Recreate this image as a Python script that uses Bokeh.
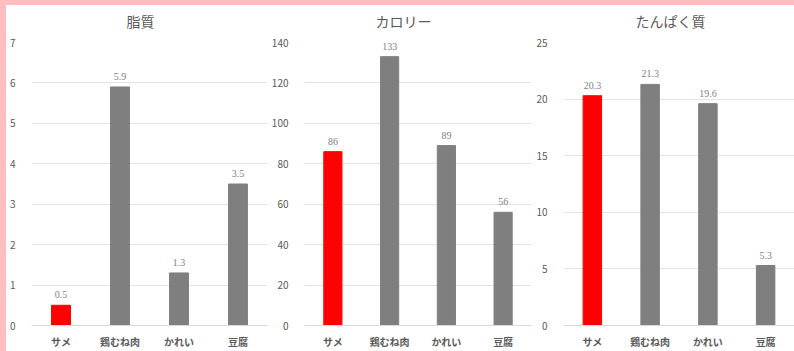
from bokeh.plotting import figure
from bokeh.models import ColumnDataSource, FixedTicker, Spacer, FactorRange, Range1d, LabelSet, Title
from bokeh.layouts import row, column
from bokeh.embed import file_html
from bokeh.resources import INLINE

categories = ["サメ", "鶏むね肉", "かれい", "豆腐"]
fat = [0.5, 5.9, 1.3, 3.5]
calories = [86, 133, 89, 56]
protein = [20.3, 21.3, 19.6, 5.3]
fat_labels = ["0.5", "5.9", "1.3", "3.5"]
calorie_labels = ["86", "133", "89", "56"]
protein_labels = ["20.3", "21.3", "19.6", "5.3"]
bar_colors = ["#FF0000", "#7F7F7F", "#7F7F7F", "#7F7F7F"]

FONT = "Noto Sans CJK JP"
PINK = "#FFBFBF"


def make_chart(title, vals, labels, ymax, step, width, left, right, title_offset):
    p = figure(
        x_range=FactorRange(*categories, range_padding=0),
        y_range=Range1d(0, ymax),
        width=width, height=346,
        min_border_left=left, min_border_right=right,
        min_border_top=37, min_border_bottom=25,
        output_backend="svg", toolbar_location=None,
        outline_line_color=None,
        background_fill_color="white", border_fill_color="white",
    )
    src = ColumnDataSource(dict(cat=categories, v=vals, lab=labels, c=bar_colors))
    p.vbar(x="cat", top="v", width=0.32, source=src, fill_color="c",
           line_color="c", line_width=1)
    labs = LabelSet(x="cat", y="v", text="lab", source=src, text_align="center",
                    text_baseline="bottom", y_offset=7, text_font_size="10px",
                    text_color="#808080", text_font=FONT, level="overlay")
    p.add_layout(labs)

    p.title.text = ""
    gap = Title(text=" ", text_font_size="2px", standoff=8, text_color="white")
    p.add_layout(gap, "above")
    ttl = Title(text=title, align="left", offset=title_offset, text_font=FONT,
                text_font_size="14px", text_font_style="normal",
                text_color="#595959", standoff=0)
    p.add_layout(ttl, "above")

    p.yaxis.ticker = FixedTicker(ticks=[i * step for i in range(int(round(ymax / step)) + 1)])
    p.yaxis.axis_line_color = None
    p.yaxis.major_tick_line_color = None
    p.yaxis.minor_tick_line_color = None
    p.yaxis.major_label_standoff = 10
    p.yaxis.major_label_text_font = FONT
    p.yaxis.major_label_text_font_size = "10px"
    p.yaxis.major_label_text_color = "#595959"

    p.xaxis.axis_line_color = "#D9D9D9"
    p.xaxis.major_tick_line_color = None
    p.xaxis.minor_tick_line_color = None
    p.xaxis.major_label_standoff = 2
    p.xaxis.major_label_text_font = FONT
    p.xaxis.major_label_text_font_size = "10px"
    p.xaxis.major_label_text_font_style = "bold"
    p.xaxis.major_label_text_color = "#595959"

    p.xgrid.grid_line_color = None
    p.ygrid.grid_line_color = "#E3E3E3"
    return p


p1 = make_chart("脂質", fat, fat_labels, 7, 1, 262, 21, 1, 95)
p2 = make_chart("カロリー", calories, calorie_labels, 140, 20, 265, 35, 2, 71)
p3 = make_chart("たんぱく質", protein, protein_labels, 25, 5, 261, 27, 0, 72)

top = Spacer(width=794, height=5, styles={"background-color": PINK})
left = Spacer(width=6, height=346, styles={"background-color": PINK})
layout = column(top, row(left, p1, p2, p3, spacing=0), spacing=0)

open("out.html", "w").write(file_html(layout, INLINE))
